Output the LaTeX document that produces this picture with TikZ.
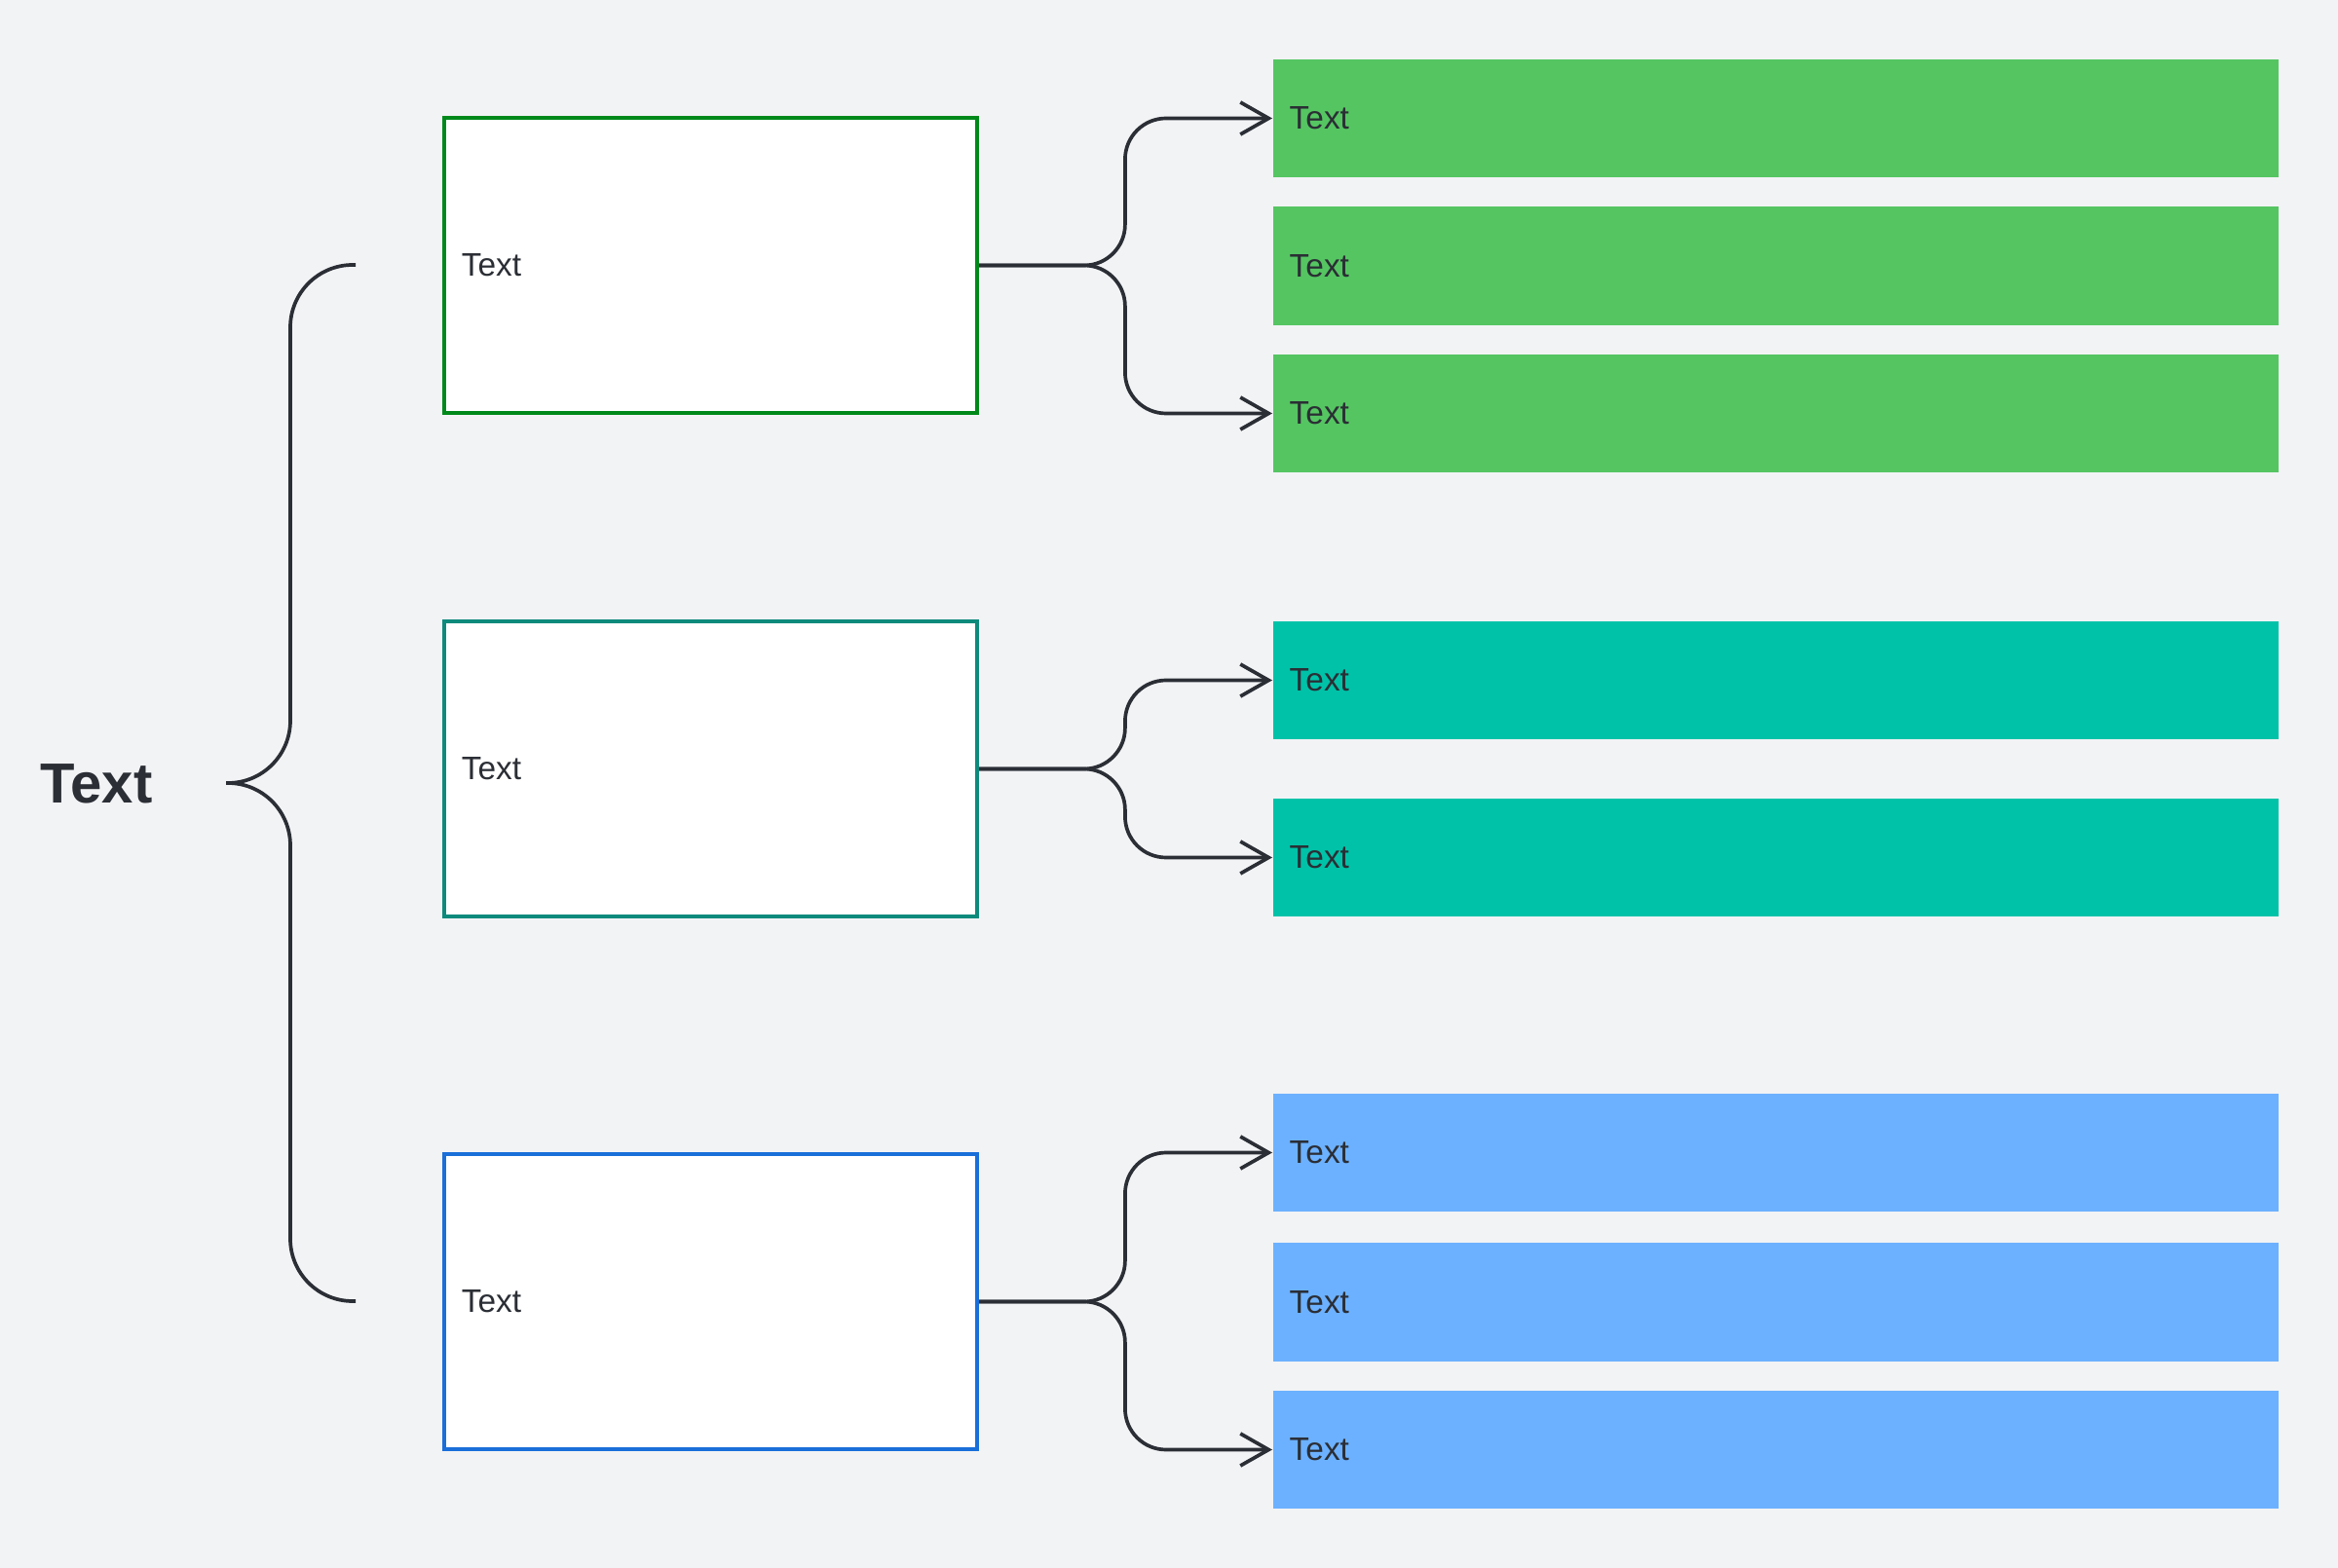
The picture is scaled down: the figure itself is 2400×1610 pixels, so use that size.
\documentclass[tikz,border=0pt]{standalone}
\usepackage{fontspec}
\setmainfont{Liberation Sans}
\usetikzlibrary{arrows.meta}

\definecolor{bgcol}{HTML}{F2F3F5}
\definecolor{ink}{HTML}{2B2E35}
\definecolor{greenfill}{HTML}{55C562}
\definecolor{tealfill}{HTML}{00C2A8}
\definecolor{bluefill}{HTML}{6CB1FF}
\definecolor{greenline}{HTML}{00891A}
\definecolor{tealline}{HTML}{0E8A7C}
\definecolor{blueline}{HTML}{1A6FD9}

\begin{document}
\begin{tikzpicture}[x=0.01cm,y=-0.01cm,
    box/.style={draw, line width=1.1pt, fill=white, minimum height=3.03cm,
      text width=5.11cm, inner xsep=0.18cm, align=left, text=ink,
      font=\fontsize{9.5}{11}\selectfont},
    bar/.style={minimum height=1.21cm, text width=9.98cm, inner xsep=0.17cm,
      align=left, text=ink, font=\fontsize{9.5}{11}\selectfont},
    link/.style={draw=ink, line width=1.05pt, rounded corners=0.42cm,
      -{Straight Barb[length=2.9mm,width=3.3mm]}},
    brace/.style={draw=ink, line width=1.05pt, rounded corners=0.64cm}]

    % background and size
    \fill[bgcol] (0,0) rectangle (2400,1610);
    \useasboundingbox (0,0) rectangle (2400,1610);

    % title and brace
    \node[text=ink, font=\fontsize{16.5}{19}\selectfont\bfseries] (title) at (99,805) {Text};
    \coordinate (btop) at (365,272);
    \coordinate (btip) at (232,804);
    \coordinate (bbot) at (365,1336);
    \draw[brace] (btop) -- (298,272) -- (298,804) -- (btip);
    \draw[brace] (btip) -- (298,804) -- (298,1336) -- (bbot);

    % middle boxes
    \node[box, draw=greenline] (gbox) at (729.5,272.5) {Text};
    \node[box, draw=tealline] (tbox) at (729.5,789.5) {Text};
    \node[box, draw=blueline] (bbox) at (729.5,1336.5) {Text};

    % green bars
    \node[bar, fill=greenfill] (g1) at (1823,121.5) {Text};
    \node[bar, fill=greenfill] (g2) at (1823,273) {Text};
    \node[bar, fill=greenfill] (g3) at (1823,424.5) {Text};

    % teal bars
    \node[bar, fill=tealfill] (t1) at (1823,698.5) {Text};
    \node[bar, fill=tealfill] (t2) at (1823,880.5) {Text};

    % blue bars
    \node[bar, fill=bluefill] (b1) at (1823,1183.5) {Text};
    \node[bar, fill=bluefill] (b2) at (1823,1337) {Text};
    \node[bar, fill=bluefill] (b3) at (1823,1488.5) {Text};

    % connectors
    \foreach \from/\to in {gbox/g1, gbox/g3, tbox/t1, tbox/t2, bbox/b1, bbox/b3}
      \draw[link] (\from.east) -| ([xshift=-1.51cm]\to.west) -- (\to.west);
\end{tikzpicture}
\end{document}
